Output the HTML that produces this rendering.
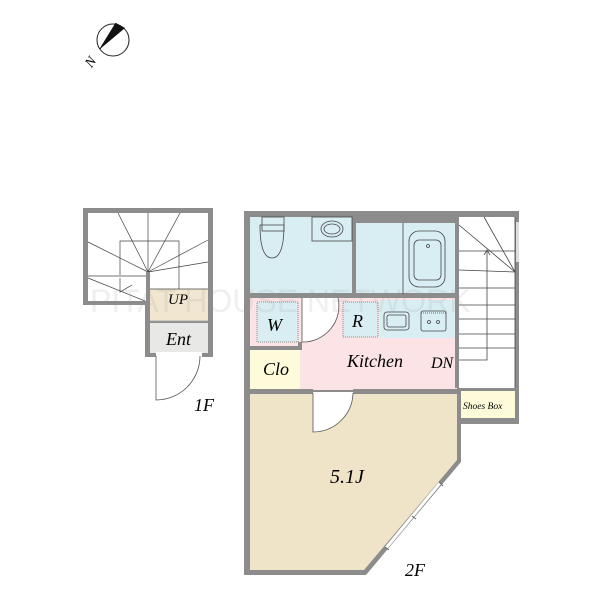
<!DOCTYPE html>
<html><head><style>body{margin:0;background:#fff}svg{display:block}text{font-family:"Liberation Serif",serif;font-style:italic}</style></head>
<body>
<svg width="600" height="600" viewBox="0 0 600 600">
<!-- compass -->
<circle cx="113" cy="40" r="16" fill="#fff" stroke="#222" stroke-width="1"/>
<polygon points="116,23 125,28 100,49" fill="#111"/>
<line x1="100" y1="49" x2="116" y2="23" stroke="#111"/>
<text x="84" y="66" font-size="14" font-style="normal" transform="rotate(-55 90 60)">N</text>

<!-- 1F -->
<rect x="83" y="208" width="130" height="97" fill="#8c8c8c"/>
<rect x="145" y="300" width="68" height="57" fill="#8c8c8c"/>
<rect x="88" y="213" width="120" height="88" fill="#fff"/>
<rect x="150" y="289" width="58" height="32" fill="#f1e6cf"/>
<rect x="150" y="323" width="58" height="30" fill="#e8e8e6"/>
<line x1="150" y1="321" x2="208" y2="321" stroke="#aaa"/>
<g stroke="#444" stroke-width="0.7" fill="none">
<line x1="118" y1="213" x2="148" y2="272"/><line x1="148" y1="213" x2="148" y2="272"/>
<line x1="180" y1="213" x2="148" y2="272"/><line x1="88" y1="242" x2="148" y2="272"/>
<line x1="208" y1="240" x2="148" y2="272"/><line x1="208" y1="262" x2="148" y2="272"/>
<line x1="88" y1="276" x2="148" y2="276"/><line x1="150" y1="289" x2="208" y2="289"/>
<line x1="88" y1="278" x2="145" y2="301"/>
<polyline points="120,278 120,292 132,285"/>
<polyline points="120,275 120,241 179,241 179,289"/>
</g>
<rect x="146" y="272" width="4" height="30" fill="#8c8c8c"/>
<rect x="156" y="352" width="46" height="6" fill="#fff"/>
<path d="M156 356 V400 A 44 44 0 0 0 200 356" fill="none" stroke="#555" stroke-width="0.8"/>
<text x="168" y="304" font-size="15">UP</text>
<text x="166" y="345" font-size="18">Ent</text>
<text x="194" y="411" font-size="18">1F</text>

<!-- 2F walls -->
<polygon points="244,211 519,211 519,424 461,424 461,462 366,575 244,575" fill="#8c8c8c"/>
<polygon points="250,393 457,393 457,460 364,570 250,570" fill="#efe3c8"/>
<rect x="250" y="217" width="103" height="76" fill="#d9eef3"/>
<rect x="356" y="223" width="100" height="71" fill="#d9eef3"/>
<rect x="250" y="298" width="207" height="92" fill="#fbe3e6"/>
<rect x="457" y="217" width="58" height="171" fill="#fff"/>
<rect x="461" y="390" width="54" height="28" fill="#fdfbd9"/>
<rect x="380" y="300" width="76" height="38" fill="#d9eef3"/>
<rect x="257" y="302" width="41" height="40" fill="#d9eef3" stroke="#888" stroke-dasharray="1,1"/>
<rect x="343" y="302" width="35" height="35" fill="#d9eef3" stroke="#888" stroke-dasharray="1,1"/>
<rect x="250" y="346" width="52" height="4" fill="#8c8c8c"/>
<rect x="250" y="350" width="50" height="40" fill="#fdfbd9"/>
<rect x="298" y="342" width="4" height="8" fill="#8c8c8c"/>
<rect x="250" y="389" width="63" height="5" fill="#8c8c8c"/>
<rect x="353" y="389" width="104" height="5" fill="#8c8c8c"/>
<rect x="313" y="392" width="40" height="4" fill="#fff"/>
<path d="M313 393 V432 A 40 40 0 0 0 353 393" fill="#fff" stroke="#555" stroke-width="0.8"/>
<!-- interior walls -->
<rect x="250" y="293" width="52" height="5" fill="#8c8c8c"/>
<rect x="338" y="293" width="119" height="5" fill="#8c8c8c"/>
<rect x="352" y="211" width="4" height="82" fill="#8c8c8c"/>
<rect x="356" y="211" width="101" height="12" fill="#8c8c8c"/>
<rect x="455" y="217" width="4" height="171" fill="#8c8c8c"/>
<rect x="457" y="388" width="62" height="3" fill="#8c8c8c"/>
<path d="M302 298 V342 A 36 36 0 0 0 338 298" fill="#fff" stroke="#555" stroke-width="0.8"/>
<!-- fixtures -->
<g stroke="#444" stroke-width="0.8" fill="none">
<rect x="312" y="217" width="40" height="24" fill="#d9eef3"/>
<ellipse cx="332" cy="229" rx="11" ry="8"/><ellipse cx="332" cy="229" rx="8" ry="5"/>
<rect x="262" y="217" width="22" height="14"/>
<path d="M260 225 Q260 258 272 258 Q284 258 284 225 Z"/>
<line x1="403" y1="223" x2="403" y2="294"/>
<rect x="409" y="231" width="36" height="56" rx="10"/><rect x="414" y="240" width="27" height="40" rx="5"/>
<circle cx="428" cy="246" r="1.5"/>
<rect x="384" y="312" width="25" height="18" rx="3"/><rect x="387" y="315" width="19" height="12" rx="2"/>
<rect x="421" y="311" width="25" height="20" rx="2"/>
<circle cx="429" cy="322" r="1.5"/><circle cx="438" cy="322" r="1.5"/>
<line x1="421" y1="313" x2="446" y2="313" stroke-dasharray="1,1"/>
<!-- stairs -->
<line x1="459" y1="251" x2="515" y2="251"/><line x1="459" y1="288" x2="515" y2="288"/>
<line x1="459" y1="305" x2="515" y2="305"/><line x1="459" y1="319" x2="515" y2="319"/>
<line x1="459" y1="334" x2="515" y2="334"/><line x1="459" y1="348" x2="515" y2="348"/>
<line x1="459" y1="225" x2="515" y2="272"/><line x1="484" y1="217" x2="515" y2="272"/>
<line x1="459" y1="270" x2="515" y2="272"/>
<polyline points="459,360 487,360 487,250"/>
<polyline points="484,255 487,250 490,255"/>
<line x1="515" y1="217" x2="515" y2="388"/>
</g>
<rect x="516" y="222" width="3" height="40" fill="#ddd"/>
<!-- window diag -->
<line x1="440" y1="483" x2="386" y2="548" stroke="#fff" stroke-width="3"/>
<line x1="412" y1="516" x2="416" y2="519" stroke="#666" stroke-width="1"/>
<line x1="439" y1="482" x2="443" y2="486" stroke="#666" stroke-width="1"/>
<line x1="385" y1="547" x2="389" y2="550" stroke="#666" stroke-width="1"/>
<text x="330" y="483" font-size="20">5.1J</text>
<text x="347" y="367" font-size="18">Kitchen</text>
<text x="431" y="368" font-size="16">DN</text>
<text x="263" y="375" font-size="18">Clo</text>
<text x="267" y="331" font-size="18">W</text>
<text x="352" y="327" font-size="18">R</text>
<text x="463" y="409" font-size="9.5">Shoes Box</text>
<text x="405" y="576" font-size="18">2F</text>
<text x="90" y="312" font-size="32" style="font-style:normal;font-family:'Liberation Sans',sans-serif" fill="#999" opacity="0.15">PITAT HOUSE NETWORK</text>
</svg>
</body></html>
